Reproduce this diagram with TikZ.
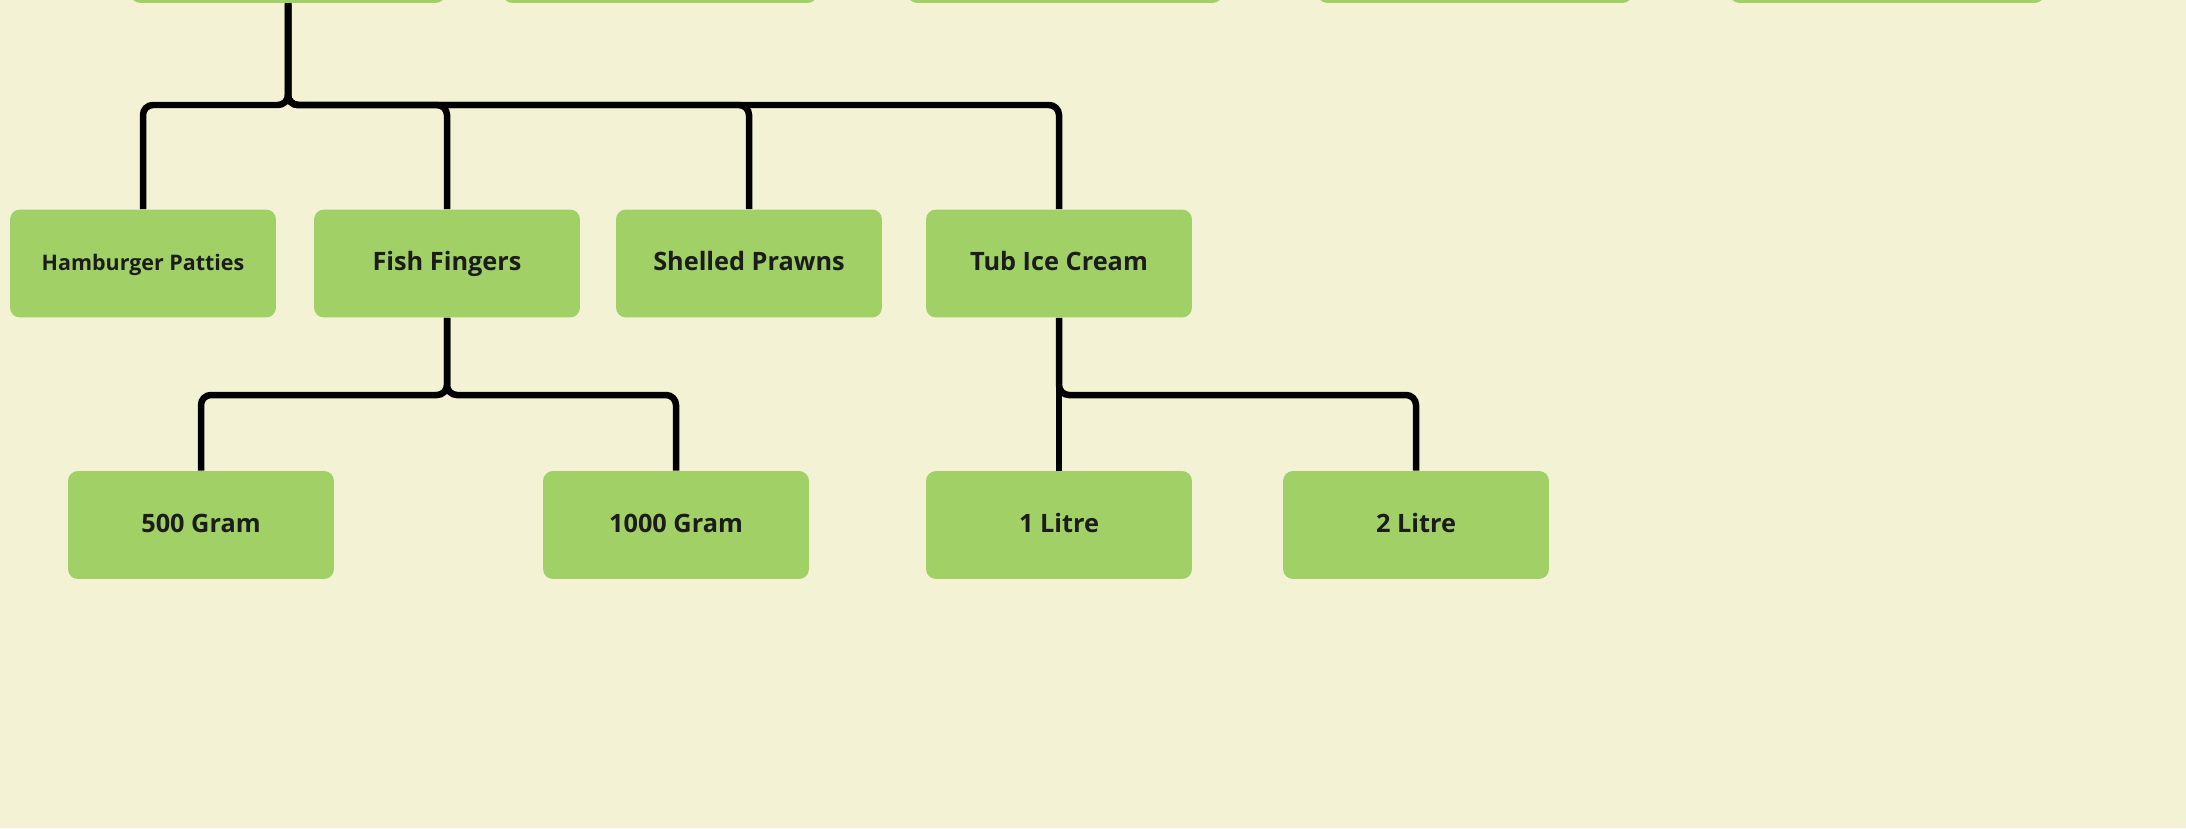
\documentclass[tikz,border=0pt]{standalone}
\usepackage{fontspec}
\setmainfont{Open Sans}
\definecolor{bgcream}{HTML}{F3F2D5}
\definecolor{leafgreen}{HTML}{A0D066}
\definecolor{inkdark}{HTML}{1C1C1C}
\begin{document}
\begin{tikzpicture}[x=0.02cm, y=-0.02cm,
    catbox/.style={fill=leafgreen, rounded corners=0.2cm, minimum width=5.32cm,
      minimum height=2.16cm, inner sep=0pt, text=inkdark, text height=1.9ex,
      text depth=0.35ex, font=\bfseries\fontsize{14.4}{16}\selectfont},
    topbox/.style={fill=leafgreen, rounded corners=0.2cm, minimum width=6.3cm,
      minimum height=2.16cm, inner sep=0pt},
    link/.style={draw=black, line width=0.13cm, rounded corners=0.2cm}]
    % background
    \fill[bgcream] (0,0) rectangle (2186,828);
    \clip (0,0) rectangle (2186,828);

    % top row (cut off at the edge)
    \node[topbox] (top1) at (288,-51) {};
    \node[topbox] (top2) at (660,-51) {};
    \node[topbox] (top3) at (1065,-51) {};
    \node[topbox] (top4) at (1475,-51) {};
    \node[topbox] (top5) at (1887,-51) {};

    % products
    \node[catbox, font=\bfseries\fontsize{12.2}{14}\selectfont] (patties) at (143,263.5) {Hamburger Patties};
    \node[catbox] (fingers) at (447,263.5) {Fish Fingers};
    \node[catbox] (prawns) at (749,263.5) {Shelled Prawns};
    \node[catbox] (icecream) at (1059,263.5) {Tub Ice Cream};

    % sizes
    \node[catbox] (gram500) at (201,525) {500 Gram};
    \node[catbox] (gram1000) at (676,525) {1000 Gram};
    \node[catbox] (litre1) at (1059,525) {1 Litre};
    \node[catbox] (litre2) at (1416,525) {2 Litre};

    % bus lines
    \coordinate (bus1) at (0,105);
    \coordinate (bus2) at (0,395);

    \foreach \c in {patties,fingers,prawns,icecream}
        \draw[link] (top1.south) |- (bus1 -| \c.north) -- (\c.north);
    \foreach \c in {gram500,gram1000}
        \draw[link] (fingers.south) |- (bus2 -| \c.north) -- (\c.north);
    \draw[link] (icecream.south) -- (litre1.north);
    \draw[link] (icecream.south) |- (bus2 -| litre2.north) -- (litre2.north);
\end{tikzpicture}
\end{document}
